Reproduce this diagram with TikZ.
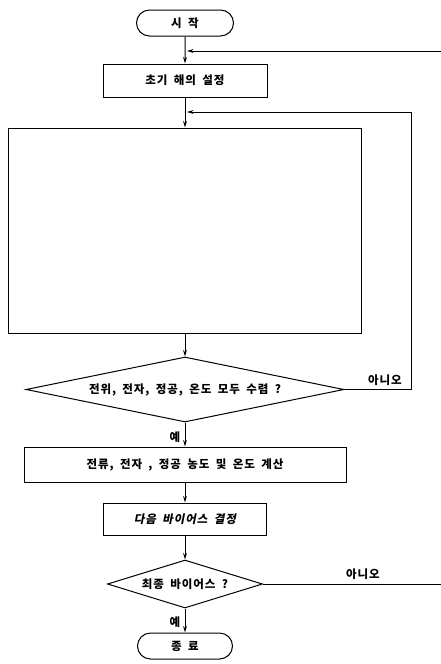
\documentclass[tikz,border=0pt]{standalone}
\usepackage{fontspec}
\newfontfamily\krb{Noto Sans CJK KR}[LetterSpace=8,WordSpace=1.8]
\usetikzlibrary{shapes.geometric,shapes.misc,arrows.meta}
\begin{document}
\begin{tikzpicture}[x=1pt,y=-1pt,line width=1pt,
  >={Stealth[length=6.5pt,width=3.8pt]},
  every node/.style={font=\krb\bfseries\fontsize{11.5}{14}\selectfont},
  proc/.style={draw,rectangle,inner sep=0pt},
  term/.style={draw,rounded rectangle,inner sep=0pt},
  dec/.style={draw,diamond,inner sep=0pt},
  lbl/.style={inner sep=0pt}]
\useasboundingbox (0,0) rectangle (440,664);
\node[term,minimum width=97pt,minimum height=26pt] (start) at (185,23) {시 작};
\node[proc,minimum width=164pt,minimum height=33pt] (init) at (185,80.5) {초기 해의 설정};
\node[proc,minimum width=353pt,minimum height=205pt] (big) at (185,230.5) {};
\node[dec,minimum width=318pt,minimum height=65pt,aspect=4.9] (conv) at (185,389.5) {전위, 전자, 정공, 온도 모두 수렴 ?};
\node[proc,minimum width=322pt,minimum height=35pt] (calc) at (185,464.5) {전류, 전자 , 정공 농도 및 온도 계산};
\node[proc,minimum width=163pt,minimum height=32pt] (next) at (185,519) {\addfontfeature{FakeSlant=0.2}다음 바이어스 결정};
\node[dec,minimum width=155pt,minimum height=48pt,aspect=3.2] (final) at (185,584) {최종 바이어스 ?};
\node[term,minimum width=95pt,minimum height=26pt] (stop) at (185,646) {종 료};
% labels
\node[lbl] (no1) at (385,380) {아니오};
\node[lbl] (no2) at (363,574) {아니오};
\node[lbl] (yes1) at (175,437) {예};
\node[lbl] (yes2) at (175,622) {예};
% coordinates
\coordinate (j1) at (185,51);
\coordinate (e1) at (441,51);
\coordinate (j2) at (185,112);
\coordinate (r2) at (411,112);
\coordinate (e2) at (441,584);
% main flow
\draw[->] (start) -- (init);
\draw[->] (init) -- (big);
\draw[->] (big) -- (conv);
\draw[->] (conv) -- (calc);
\draw[->] (calc) -- (next);
\draw[->] (next) -- (final);
\draw[->] (final) -- (stop);
% loops
\draw[->,shorten >=2pt] (e1) -- (j1);
\draw[->,shorten >=2pt] (conv.east) -| (r2) -- (j2);
\draw (final.east) -- (e2);
\end{tikzpicture}
\end{document}
